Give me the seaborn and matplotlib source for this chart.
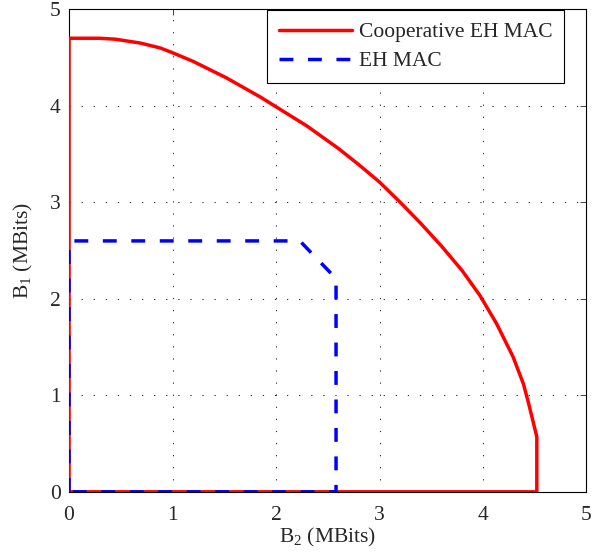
import numpy as np
import pandas as pd
import seaborn as sns
import matplotlib.pyplot as plt

sns.set_style("white")
plt.rcParams['font.family'] = ['Liberation Serif', 'DejaVu Serif']
plt.rcParams['mathtext.fontset'] = 'custom'
plt.rcParams['mathtext.rm'] = 'Liberation Serif'
plt.rcParams['mathtext.it'] = 'Liberation Serif:italic'
plt.rcParams.update({'font.size': 15.5})

# cooperative EH MAC region boundary (B2, B1)
coop_b2 = [0, 0, 0.3, 0.45, 0.69, 0.88, 1.0, 1.2, 1.52, 1.85, 2.0, 2.3, 2.6, 2.8, 3.0,
           3.2, 3.4, 3.6, 3.8, 3.97, 4.13, 4.29, 4.39, 4.44, 4.52, 4.52, 0]
coop_b1 = [0, 4.7, 4.7, 4.69, 4.65, 4.6, 4.55, 4.46, 4.29, 4.09, 3.99, 3.79, 3.56, 3.39, 3.21,
           3.0, 2.78, 2.545, 2.29, 2.035, 1.745, 1.40, 1.12, 0.92, 0.57, 0, 0]

# EH MAC region boundary
eh_b2 = [0, 0, 2.23, 2.58, 2.58, 0]
eh_b1 = [0, 2.6, 2.6, 2.21, 0, 0]

fig = plt.figure(figsize=(5.92, 5.57), dpi=100)
ax = fig.add_axes([0.1166, 0.117, 0.8741, 0.8663])

sns.lineplot(x=coop_b2, y=coop_b1, sort=False, estimator=None, ax=ax,
             color="#ff0000", linewidth=2.5, label="Cooperative EH MAC", zorder=3)
sns.lineplot(x=eh_b2, y=eh_b1, sort=False, estimator=None, ax=ax,
             color="#0000ff", linewidth=2.5, linestyle=(0, (4, 4.2)), label="EH MAC", zorder=3)

ax.set_xlim(0, 5)
ax.set_ylim(0, 5)
ax.set_xticks(range(6))
ax.set_yticks(range(6))
ax.grid(True, color="black", linestyle=(0, (1.5, 13)), linewidth=0.6)
ax.tick_params(direction="in", length=4, width=0.6, top=True, right=True, pad=6)
ax.tick_params(axis="x", pad=10)
for s in ax.spines.values():
    s.set_linewidth(0.8)
    s.set_color("black")

ax.set_xlabel("B$_2$ (MBits)", labelpad=1)
ax.set_ylabel("B$_1$ (MBits)", labelpad=11)

leg = ax.legend(loc="upper right", bbox_to_anchor=(0.957, 0.998), borderaxespad=0,
                fancybox=False, edgecolor="black", framealpha=1, handlelength=3.4,
                handletextpad=0.3, borderpad=0.55, labelspacing=0.42)
leg.get_frame().set_linewidth(0.8)

fig.savefig("out.png", dpi=100)
